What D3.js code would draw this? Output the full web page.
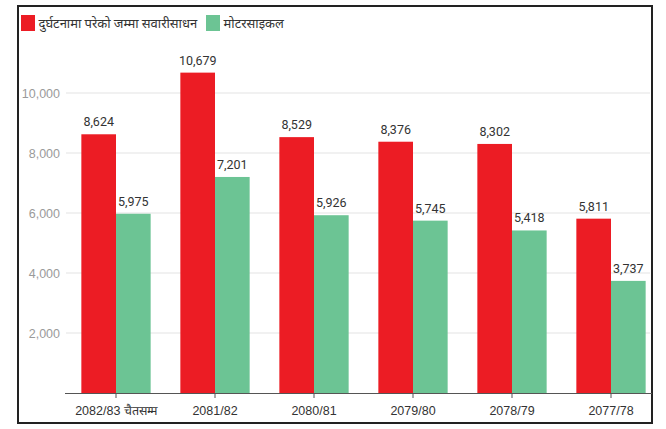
<!DOCTYPE html>
<html><head><meta charset="utf-8">
<script src="https://cdn.jsdelivr.net/npm/d3@7"></script>
<style>
html,body{margin:0;padding:0;background:#fff;}
svg{display:block;font-family:Roboto,"Noto Sans",sans-serif;}
</style></head>
<body><svg id="c" width="666" height="429"></svg>
<script>
const categories = ["2082/83 चैतसम्म","2081/82","2080/81","2079/80","2078/79","2077/78"];
const seriesNames = ["दुर्घटनामा परेको जम्मा सवारीसाधन","मोटरसाइकल"];
const totalVehicles = [8624,10679,8529,8376,8302,5811];
const motorcycles = [5975,7201,5926,5745,5418,3737];
const yTicks = [2000,4000,6000,8000,10000];
const colors = ["#ec1c24","#6cc494"];

const svg = d3.select("#c");
// frame
svg.append("rect").attr("x",18).attr("y",6).attr("width",634).attr("height",417)
  .attr("fill","none").attr("stroke","#222").attr("stroke-width",2);

const x0 = d3.scaleBand().domain(categories).range([66.5,660.5]).paddingInner(0.3).paddingOuter(0.15);
const x1 = d3.scaleBand().domain([0,1]).range([0,x0.bandwidth()]);
const y = d3.scaleLinear().domain([0,10000]).range([393,93]);

// grid
svg.append("g").selectAll("line").data(yTicks).join("line")
  .attr("x1",66).attr("x2",650).attr("y1",d=>y(d)).attr("y2",d=>y(d))
  .attr("stroke","#ececec").attr("stroke-width",1.5);

// y axis labels
const yAxis = d3.axisLeft(y).tickValues(yTicks).tickSize(0).tickPadding(6).tickFormat(d3.format(","));
const gy = svg.append("g").attr("transform","translate(60,0)").call(yAxis);
gy.select(".domain").remove();
gy.selectAll("text").attr("fill","#9a9a9a").style("font-size","12.5px").attr("x",0);

const data = categories.map((c,i)=>({c, v:[totalVehicles[i], motorcycles[i]]}));
const groups = svg.append("g").selectAll("g").data(data).join("g")
  .attr("transform",d=>`translate(${x0(d.c)},0)`);
groups.selectAll("rect").data(d=>d.v.map((v,k)=>({v,k}))).join("rect")
  .attr("x",d=>x1(d.k)).attr("width",x1.bandwidth())
  .attr("y",d=>y(d.v)).attr("height",d=>y(0)-y(d.v))
  .attr("fill",d=>colors[d.k]);
groups.selectAll("text").data(d=>d.v.map((v,k)=>({v,k}))).join("text")
  .attr("x",d=>x1(d.k)+x1.bandwidth()/2).attr("y",d=>y(d.v)-8)
  .attr("text-anchor","middle").attr("fill","#333").style("font-size","12.5px")
  .text(d=>d3.format(",")(d.v));

// x axis
const xAxis = d3.axisBottom(x0).tickSize(5).tickPadding(8);
const gx = svg.append("g").attr("transform","translate(0,393)").call(xAxis);
gx.select(".domain").attr("d","M65,0.5H652").attr("stroke","#555").attr("stroke-width",1.2);
gx.selectAll(".tick line").attr("stroke","#555");
gx.selectAll("text").attr("fill","#333").style("font-size","12.5px");

// legend
const leg = svg.append("g");
const lx = [21,206];
seriesNames.forEach((n,i)=>{
  leg.append("rect").attr("x",lx[i]).attr("y",15).attr("width",14).attr("height",16).attr("fill",colors[i]);
  leg.append("text").attr("x",lx[i]+17.5).attr("y",27.5).attr("fill","#333").style("font-size","13px").text(n);
});
</script></body></html>
